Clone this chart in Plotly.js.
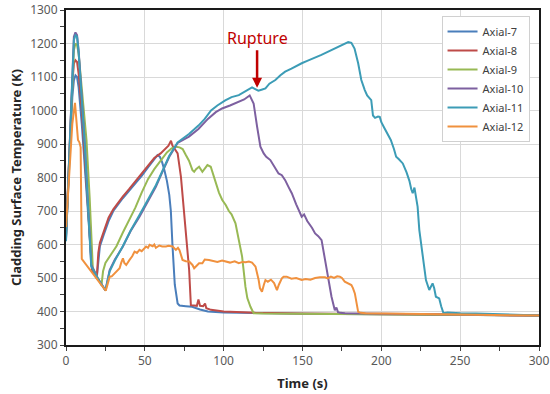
<!DOCTYPE html>
<html>
<head>
<meta charset="utf-8">
<script src="https://cdn.plot.ly/plotly-3.0.1.min.js"></script>
<style>html,body{margin:0;padding:0;background:#fff;}#chart{width:550px;height:394px;}</style>
</head>
<body>
<div id="chart"></div>
<script>
// ---- Data (time in s, temperature in K) ----
const seriesNames = ["Axial-7", "Axial-8", "Axial-9", "Axial-10", "Axial-11", "Axial-12"];

const t7 = [0,2,4,5,6,7,8,10,12,14,16.5,19.5,20.5,21.5,24,27,30,33,36,40,44,48,52,55,58,59.5,61,62.5,64,65.5,66.5,67.5,69,70.8,72,76,80,85,90,100,120,150,200,250,300];
const T7 = [620,850,1040,1090,1105,1100,1070,960,830,680,525,500,560,595,630,670,700,720,738,760,782,805,830,848,867,862,845,820,790,748,700,600,480,424,418,416,414,406,400,397,395,393,392,391,388];

const t8 = [0,2,4,5,6,7,8,10,12,14,16.5,19.5,20.5,21.5,24,27,30,33,36,40,44,48,52,56,60,63,65,66.6,67.5,69,70.8,72.9,74.5,76,78.1,79.2,81,83,84,85,87,88.2,89,92,100,120,150,200,250,300];
const T8 = [630,880,1080,1140,1150,1145,1110,1000,860,710,525,500,575,605,640,680,705,725,743,765,788,810,835,858,872,885,895,910,895,885,872,802,720,643,524,419,418,417,436,417,416,424,410,405,400,396,394,392,391,388];

const t9 = [0,2,4,5,6,7,8,10,12,13,15,17,22.5,23.5,25,28,32,36,40,44,48,52,56,60,64,67,69.7,72,74,76,78,80.2,81.3,82.5,84.4,86.5,88,89.7,91.8,93,94.9,97,99.1,101.3,103.3,105,107.5,109.6,111.7,113.8,115,117,119,125,150,200,250,300];
const T9 = [625,870,1100,1180,1200,1195,1170,1070,960,912,740,530,478,520,545,565,595,635,672,710,755,795,825,850,875,887,892,890,885,867,850,822,817,825,832,817,825,837,832,815,782,755,733,718,700,690,663,618,564,474,440,414,395,394,393,392,391,388];

const t10 = [0,2,4,5,6,7,8,10,12,14,16,20,25,27.7,31,36,41,46.6,52,57,61,65.5,70.8,78,84,90,95,99,104,109.6,113,116.5,119,121.2,123.3,125.4,127,129.6,132,134.8,136.9,139,141.1,143.2,146,149.5,151,153,156,158,160,162.1,164.3,166.3,168.4,170.5,171.5,172.5,174,177,200,250,300];
const T10 = [615,880,1150,1220,1233,1225,1180,1040,900,720,540,500,463,524,555,593,640,683,728,772,815,862,903,922,945,975,995,1006,1015,1026,1033,1045,1021,952,892,872,862,852,832,812,807,792,772,753,720,683,690,670,650,633,625,613,554,494,444,404,412,398,396,395,393,391,388];

const t11 = [0,2,4,5,6,7,8,10,12,14,16,20,25,27.7,31,36,41,46.6,52,57,61,65.5,70.8,78,84,88,92,96,101,105,109.6,114,118,120,122,124,126.5,129,132.8,136,139,143,146,149.5,153,156,159,162,166,169,172.7,175,177,179,181,183,185.3,187.3,189.5,191,193.6,194.7,196,197.9,199,200,202,204,206,208,209.4,211,213.6,216,217.8,219,219.9,221,222,223,224.1,225,226.2,227,228.3,229.5,230.4,232.5,233.5,234.6,235.5,236.7,238,239.4,242,245,250,260,280,300];
const T11 = [610,870,1140,1210,1225,1220,1175,1030,890,710,535,500,463,520,552,595,642,688,733,777,818,865,905,930,955,975,1000,1015,1030,1040,1046,1058,1069,1064,1059,1062,1066,1080,1091,1105,1116,1125,1133,1141,1148,1155,1160,1166,1175,1183,1190,1197,1201,1204,1202,1185,1141,1091,1061,1045,1031,985,978,982,981,965,947,930,912,885,862,855,842,815,790,765,753,770,745,713,643,615,574,540,494,480,464,484,470,444,441,439,415,395,397,396,395,394,392,388];

const t12 = [0,2,4,5.7,7,7.6,8.5,9.3,10,15,20,25.2,26,27.7,29,30.9,32,34,35,36.1,37,38.2,40.3,42,43.5,45,46.6,48,50.8,52,53,55,56,57,59.2,61,63.4,65,67.6,69,69.7,71,72,73.9,76,78.1,80.2,81.3,82.3,84.4,86.5,88,90.7,93,96,99,101.3,104,107,109.6,112,114,116,118,120.2,121,122.2,123,124.3,125.5,126.5,128,130,132,133.8,135,136.9,138,140,143,146,149.5,152,155,158,161,164.3,166,168,170,172,173.7,175,176.8,179,181,182,183.2,185.3,187,190,200,250,300];
const T12 = [652,820,960,1023,930,912,905,890,557,526,495,462,475,504,505,514,520,529,545,559,545,539,554,565,579,575,584,580,594,590,599,595,600,590,597,594,594,596,594,585,584,590,583,554,550,549,539,529,534,544,544,555,554,552,548,552,549,546,550,544,548,547,549,546,534,520,494,470,459,480,494,489,495,485,464,480,499,504,504,498,500,494,497,495,500,502,502,499,504,500,505,504,500,489,484,479,470,454,399,396,395,394,391,388];

const xTicks = [0, 50, 100, 150, 200, 250, 300];
const yTicks = [300, 400, 500, 600, 700, 800, 900, 1000, 1100, 1200, 1300];

const colors = ["#4A7EBB", "#BE4B48", "#98B954", "#7D60A0", "#3C9CB6", "#F0913E"];
const xs = [t7, t8, t9, t10, t11, t12];
const ys = [T7, T8, T9, T10, T11, T12];

const traces = seriesNames.map((n, i) => ({
  type: "scatter", mode: "lines", name: n,
  x: xs[i], y: ys[i],
  line: {color: colors[i], width: 2}
}));

const FONT = "Noto Sans, Open Sans, sans-serif";
const axisCommon = {
  showline: true, linecolor: "#1a1a1a", linewidth: 2, mirror: true,
  gridcolor: "#d9d9d9", gridwidth: 1, zeroline: false, automargin: false,
  ticks: "outside", ticklen: 4, tickcolor: "#404040",
  ticklabeloverflow: "allow",
  tickfont: {family: FONT, size: 12, color: "#595959"}
};

const layout = {
  width: 550, height: 394,
  margin: {l: 66, r: 11, t: 10, b: 49},
  paper_bgcolor: "#fff", plot_bgcolor: "#fff",
  showlegend: true,
  legend: {
    x: 0.98, y: 0.982, xanchor: "right", yanchor: "top",
    bgcolor: "#fff", bordercolor: "#d0d0d0", borderwidth: 1,
    font: {family: FONT, size: 11, color: "#404040"},
    itemwidth: 30, tracegroupgap: 0
  },
  xaxis: Object.assign({}, axisCommon, {
    range: [0, 300], tickvals: xTicks, ticktext: xTicks.map(String),
    minor: {ticks: "outside", dtick: 25, ticklen: 4, tickcolor: "#404040", showgrid: false},
    title: {text: "<b>Time (s)</b>", font: {family: FONT, size: 13, color: "#262626"}, standoff: 10}
  }),
  yaxis: Object.assign({}, axisCommon, {
    range: [300, 1300], tickvals: yTicks, ticktext: yTicks.map(String),
    minor: {ticks: "outside", dtick: 50, ticklen: 4, tickcolor: "#404040", showgrid: false},
    title: {text: "<b>Cladding Surface Temperature (K)</b>", font: {family: FONT, size: 13, color: "#262626"}, standoff: 6}
  }),
  annotations: [{
    x: 121.2, y: 1068, xref: "x", yref: "y",
    text: "Rupture", showarrow: true,
    ax: 0, ay: -50,
    arrowcolor: "#C00000", arrowwidth: 2.5, arrowhead: 2, arrowsize: 0.8,
    font: {family: FONT, size: 16, color: "#C00000"}
  }]
};

Plotly.newPlot("chart", traces, layout, {displayModeBar: false, staticPlot: true});
</script>
</body>
</html>
